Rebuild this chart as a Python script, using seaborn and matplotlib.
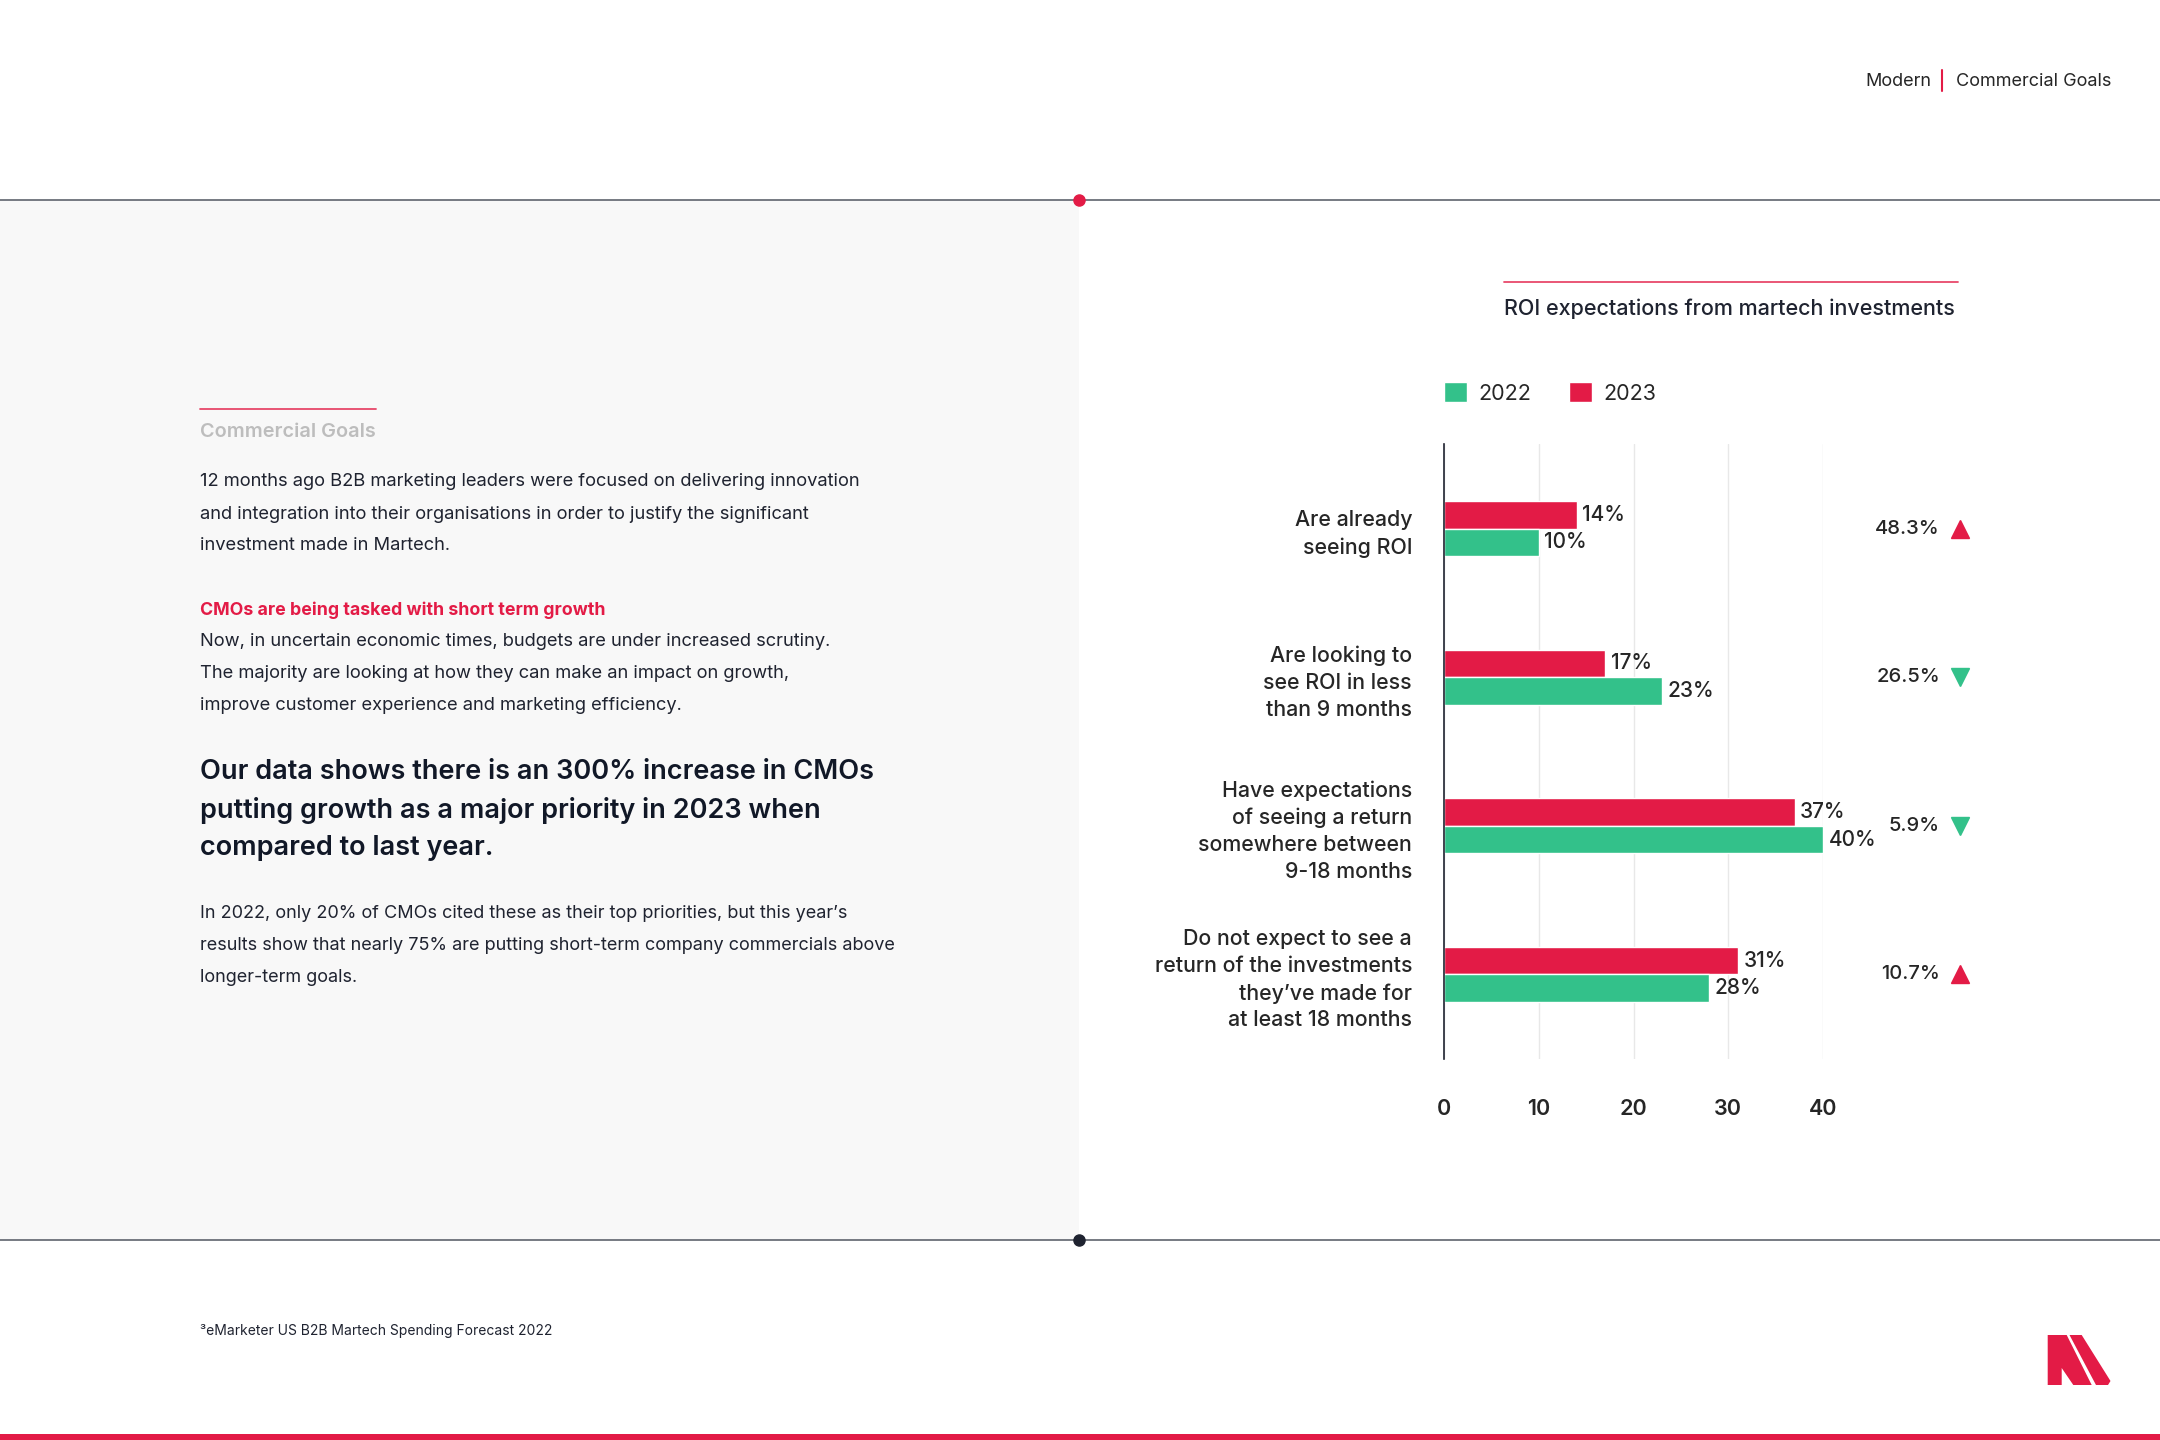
import matplotlib
matplotlib.use("Agg")
import matplotlib.pyplot as plt
import matplotlib.transforms as mtrans
from matplotlib.patches import Rectangle, Polygon, Patch
from matplotlib.lines import Line2D
import seaborn as sns
import pandas as pd

# data
categories = [
    "Are already\nseeing ROI",
    "Are looking to\nsee ROI in less\nthan 9 months",
    "Have expectations\nof seeing a return\nsomewhere between\n9-18 months",
    "Do not expect to see a\nreturn of the investments\nthey\u2019ve made for\nat least 18 months",
]
years = ["2022", "2023"]
values_2022 = [10, 23, 40, 28]
values_2023 = [14, 17, 37, 31]
change_labels = ["48.3%", "26.5%", "5.9%", "10.7%"]
change_dirs = ["up", "down", "down", "up"]
x_ticks = [0, 10, 20, 30, 40]

RED = "#E31B46"
GREEN = "#33C18A"
DARK = "#1F2330"
TXT = "#262626"

sns.set_theme(style="white")
plt.rcParams["font.family"] = ["Inter", "DejaVu Sans"]

df = pd.DataFrame({
    "category": categories * 2,
    "value": values_2022 + values_2023,
    "year": [years[0]] * 4 + [years[1]] * 4,
})

W, H = 2160, 1440
fig = plt.figure(figsize=(21.6, 14.4), dpi=100)
fig.patch.set_facecolor("white")

def fx(px):
    return px / W

def fy(py):
    return 1 - py / H

# page furniture
fig.patches.append(Rectangle((0, fy(1240)), fx(1079), fy(200) - fy(1240),
                             transform=fig.transFigure, facecolor="#F8F8F8",
                             edgecolor="none", zorder=0))
for yy, dot in [(200, RED), (1240, DARK)]:
    fig.lines.append(Line2D([0, 1], [fy(yy), fy(yy)], transform=fig.transFigure,
                            color="#6B6F78", lw=1.3, zorder=1))
    fig.lines.append(Line2D([fx(1079)], [fy(yy)], transform=fig.transFigure,
                            marker="o", markersize=8, color=dot, zorder=2))
fig.patches.append(Rectangle((0, 0), 1, fy(1434), transform=fig.transFigure,
                             facecolor=RED, edgecolor="none", zorder=2))

# logo
logo_left = [(2047.7, 1335), (2066.7, 1335), (2091.7, 1385), (2073.3, 1385),
             (2061.7, 1368), (2061.7, 1385), (2047.7, 1385)]
logo_right = [(2069.5, 1335), (2081.7, 1335), (2110.5, 1381), (2108, 1385), (2096, 1385)]
for pts in (logo_left, logo_right):
    fig.patches.append(Polygon([(fx(a), fy(b)) for a, b in pts], closed=True,
                               transform=fig.transFigure, facecolor=RED,
                               edgecolor="none", zorder=2))

# header
fig.text(fx(1931), fy(81), "Modern", ha="right", va="center", fontsize=13, color=TXT)
fig.lines.append(Line2D([fx(1942), fx(1942)], [fy(70), fy(91)], transform=fig.transFigure,
                        color=RED, lw=1.5))
fig.text(fx(1956), fy(81), "Commercial Goals", ha="left", va="center", fontsize=13, color=TXT)

# left column text
LX = fx(200)
fig.lines.append(Line2D([LX, fx(376)], [fy(409), fy(409)], transform=fig.transFigure,
                        color=RED, lw=1.3, alpha=0.8))
fig.text(LX, fy(432), "Commercial Goals", ha="left", va="center", fontsize=14.3,
         fontweight="semibold", color="#BDBDBD")
para1 = ["12 months ago B2B marketing leaders were focused on delivering innovation",
         "and integration into their organisations in order to justify the significant",
         "investment made in Martech."]
for line, yy in zip(para1, [482, 514, 546]):
    fig.text(LX, fy(yy), line, ha="left", va="center", fontsize=13.2, color=DARK)
fig.text(LX, fy(610), "CMOs are being tasked with short term growth", ha="left",
         va="center", fontsize=12.8, fontweight="bold", color=RED)
para2 = ["Now, in uncertain economic times, budgets are under increased scrutiny.",
         "The majority are looking at how they can make an impact on growth,",
         "improve customer experience and marketing efficiency."]
for line, yy in zip(para2, [642, 674, 706]):
    fig.text(LX, fy(yy), line, ha="left", va="center", fontsize=13.2, color=DARK)
heading = ["Our data shows there is an 300% increase in CMOs",
           "putting growth as a major priority in 2023 when",
           "compared to last year."]
for line, yy in zip(heading, [772, 811, 848]):
    fig.text(LX, fy(yy), line, ha="left", va="center", fontsize=19.5,
             fontweight="semibold", color="#111827")
para3 = ["In 2022, only 20% of CMOs cited these as their top priorities, but this year\u2019s",
         "results show that nearly 75% are putting short-term company commercials above",
         "longer-term goals."]
for line, yy in zip(para3, [914, 946, 978]):
    fig.text(LX, fy(yy), line, ha="left", va="center", fontsize=13.0, color=DARK)
fig.text(LX, fy(1331), "\u00b3eMarketer US B2B Martech Spending Forecast 2022", ha="left",
         va="center", fontsize=10, color=DARK)

# chart title
fig.lines.append(Line2D([fx(1504), fx(1958)], [fy(282), fy(282)], transform=fig.transFigure,
                        color=RED, lw=1.3, alpha=0.8))
fig.text(fx(1504), fy(309), "ROI expectations from martech investments", ha="left",
         va="center", fontsize=15.5, fontweight="medium", color=DARK)

# chart
ax = fig.add_axes([fx(1444), fy(1059), fx(1823) - fx(1444), fy(444) - fy(1059)])
ax.set_facecolor("white")
sns.barplot(data=df, x="value", y="category", hue="year", hue_order=["2023", "2022"],
            palette={"2022": GREEN, "2023": RED}, orient="h", width=0.37,
            edgecolor="white", linewidth=1, saturation=1, legend=False, ax=ax)
ax.set_xlim(0, 40)
ax.set_ylim(3.57, -0.57)
ax.set_xticks(x_ticks)
ax.set_xlabel("")
ax.set_ylabel("")
ax.xaxis.grid(True, color="#E8E8E8", lw=1)
ax.yaxis.grid(False)
for s in ["top", "right", "bottom"]:
    ax.spines[s].set_visible(False)
ax.spines["left"].set_color(DARK)
ax.spines["left"].set_linewidth(1.2)
ax.tick_params(axis="x", length=0, pad=29, labelsize=15.5, labelcolor=TXT)
ax.tick_params(axis="y", length=0, pad=23, labelsize=15.4, labelcolor=TXT)
for lbl in ax.get_xticklabels():
    lbl.set_fontweight("semibold")
for lbl in ax.get_yticklabels():
    lbl.set_fontweight("medium")
    lbl.set_linespacing(1.43)

for cont in ax.containers:
    ax.bar_label(cont, fmt="%g%%", padding=4, fontsize=15, fontweight="medium",
                 color=TXT, clip_on=False)

# change annotations to the right
tr = mtrans.blended_transform_factory(fig.transFigure, ax.transData)
for i, (lab, d) in enumerate(zip(change_labels, change_dirs)):
    ax.text(fx(1940), i, lab, transform=tr, ha="right", va="center", fontsize=14.5,
            fontweight="medium", color=TXT, clip_on=False)
    ax.plot([fx(1960)], [i], transform=tr, marker="^" if d == "up" else "v",
            markersize=13, color=RED if d == "up" else GREEN, clip_on=False,
            linestyle="none")

# legend
handles = [Patch(facecolor=GREEN, label="2022"), Patch(facecolor=RED, label="2023")]
fig.legend(handles=handles, loc="center left", bbox_to_anchor=(fx(1444), fy(393)),
           ncol=2, frameon=False, fontsize=15.5, handlelength=1.05, handleheight=1.05,
           handletextpad=0.55, columnspacing=1.75, borderpad=0, borderaxespad=0)

fig.savefig("out.png", dpi=100, facecolor="white")
